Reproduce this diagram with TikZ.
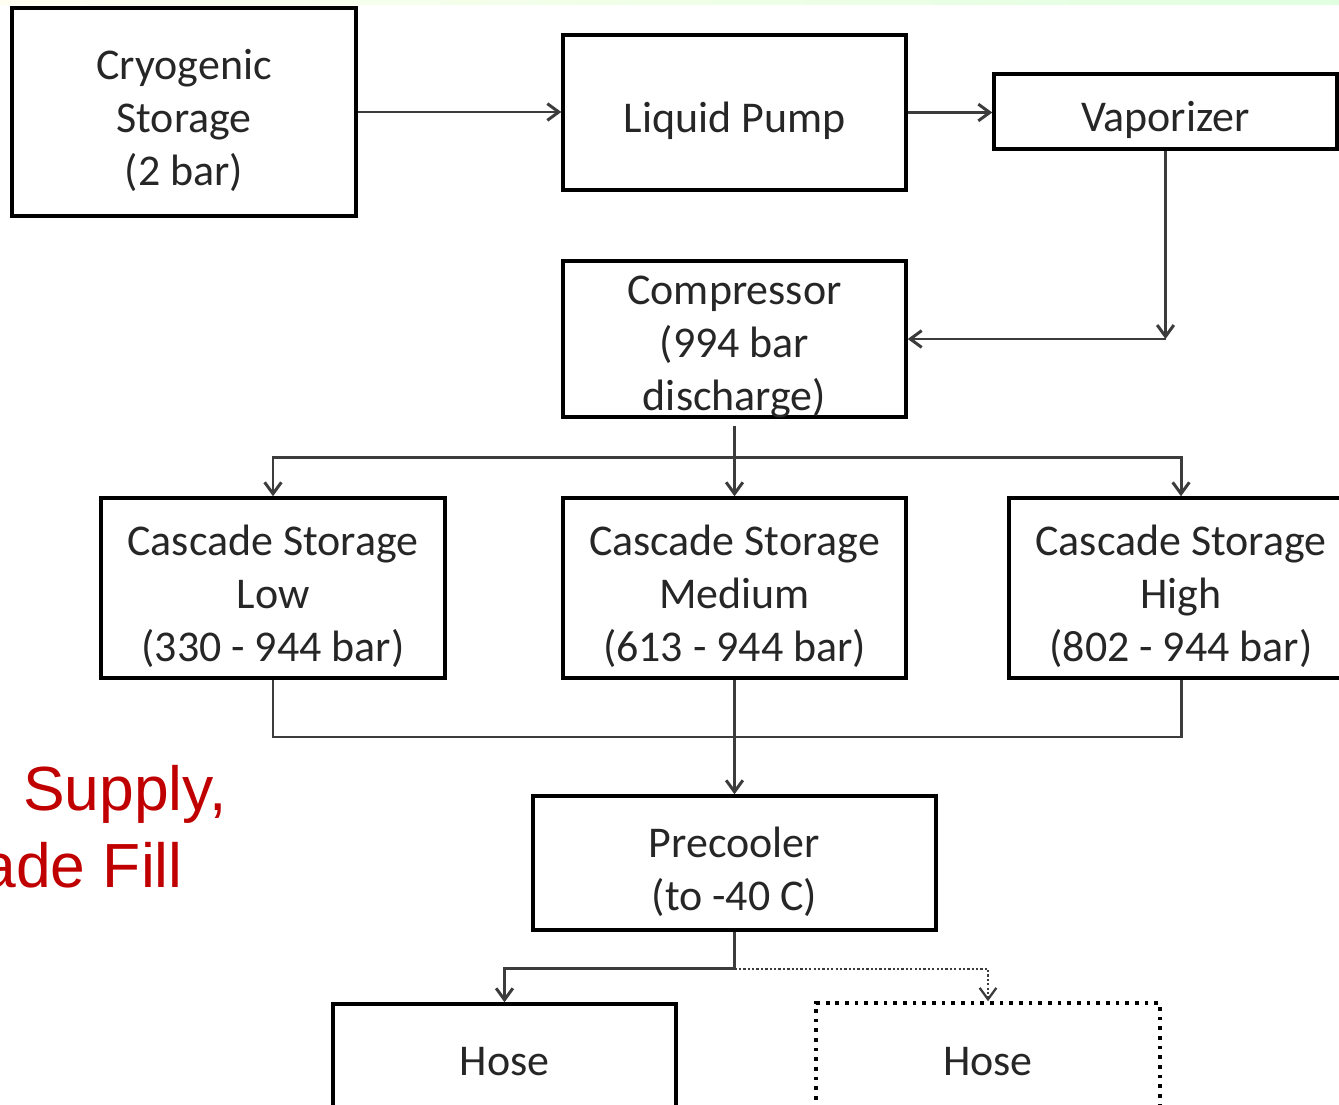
\documentclass[tikz,border=0pt]{standalone}
\usepackage{fontspec}
\setmainfont{Carlito}
\newfontfamily\redfont{Liberation Sans}
\usetikzlibrary{calc,arrows.meta}

\definecolor{wire}{RGB}{60,60,60}
\definecolor{slidered}{RGB}{192,0,0}

% pushes the first line of a box a little down
\newcommand{\firstline}[1][27pt]{\rule{0pt}{#1}}

\tikzset{
	box/.style={draw=black, line width=2pt, align=center, inner sep=0pt,
		font=\fontsize{25}{30}\selectfont, text=black!85},
	line/.style={draw=wire, line width=1.7pt},
	flow/.style={line, -{Straight Barb[length=6.5pt,width=9.5pt]}},
	flowdot/.style={flow, line width=1.3pt, dash pattern=on 1.3pt off 1.2pt},
	redtext/.style={inner sep=0pt, text=slidered, font=\redfont\fontsize{35.5}{42}\selectfont}
}

\begin{document}
\begin{tikzpicture}[x=0.02cm, y=-0.02cm]

	% page
	\useasboundingbox (0,0) rectangle (1339,1105);
	\shade[left color=green!4!yellow!6, right color=green!12] (0,0) rectangle (1339,5);

	% boxes
	\node[box, minimum width=6.88cm, minimum height=4.16cm] (cryo) at (184,112)
		{\firstline Cryogenic\\Storage\\(2 bar)};
	\node[box, minimum width=6.86cm, minimum height=3.10cm] (pump) at (734.5,112.5)
		{\firstline Liquid Pump};
	\node[box, minimum width=6.86cm, minimum height=1.50cm] (vap) at (1165.5,111.5)
		{\firstline Vaporizer};
	% text runs over the lower edge here
	\node[box, minimum width=6.86cm, minimum height=3.12cm] (comp) at (734.5,339)
		{\firstline[21pt]Compressor\\(994 bar\\\smash{discharge)}};

	\node[box, minimum width=6.88cm, minimum height=3.60cm] (low) at (273,588)
		{\firstline Cascade Storage\\Low\\(330 - 944 bar)};
	\node[box, minimum width=6.86cm, minimum height=3.60cm] (med) at (734.5,588)
		{\firstline Cascade Storage\\Medium\\(613 - 944 bar)};
	\node[box, minimum width=6.88cm, minimum height=3.60cm] (high) at (1181,588)
		{\firstline Cascade Storage\\High\\(802 - 944 bar)};

	\node[box, minimum width=8.06cm, minimum height=2.68cm] (pre) at (734.5,863)
		{\firstline Precooler\\(to -40 C)};

	\node[box, minimum width=6.86cm, minimum height=2.32cm] (hoseA) at (504.5,1062)
		{Hose};
	\node[box, minimum width=6.88cm, minimum height=2.36cm,
		dash pattern=on 2.2pt off 3.3pt] (hoseB) at (988,1062)
		{Hose};

	% junctions
	\coordinate (vtap) at (vap.south |- comp.east);
	\coordinate (fan) at ($(comp.south)!0.5!(med.north)$);
	\coordinate (merge) at ($(med.south)!0.5!(pre.north)$);
	\path (pre.south) ++(0,37) coordinate (out);

	% supply line
	\draw[flow] (cryo.east) -- (cryo.east -| pump.west);
	\draw[flow] (pump.east) -- (pump.east -| vap.west);
	\draw[flow] (vap) -- (vtap);
	\draw[flow] (vtap) -- (comp);

	% cascade fill
	\draw[flow, shorten <=4pt] (comp) -- (med);
	\draw[flow] (fan) -| (low);
	\draw[flow] (fan) -| (high);

	% cascade draw
	\draw[line] (low) |- (merge) -| (high);
	\draw[flow] (med) -- (pre);

	% dispensing
	\draw[flow] (pre.south) -- (out) -| (hoseA);
	\draw[flowdot] (out) -| (hoseB);

	% slide title
	\node[redtext, anchor=base east] (supply) at (227,810) {Supply,};
	\node[redtext, anchor=base east] (fill) at (183,887) {ade Fill};

\end{tikzpicture}
\end{document}
